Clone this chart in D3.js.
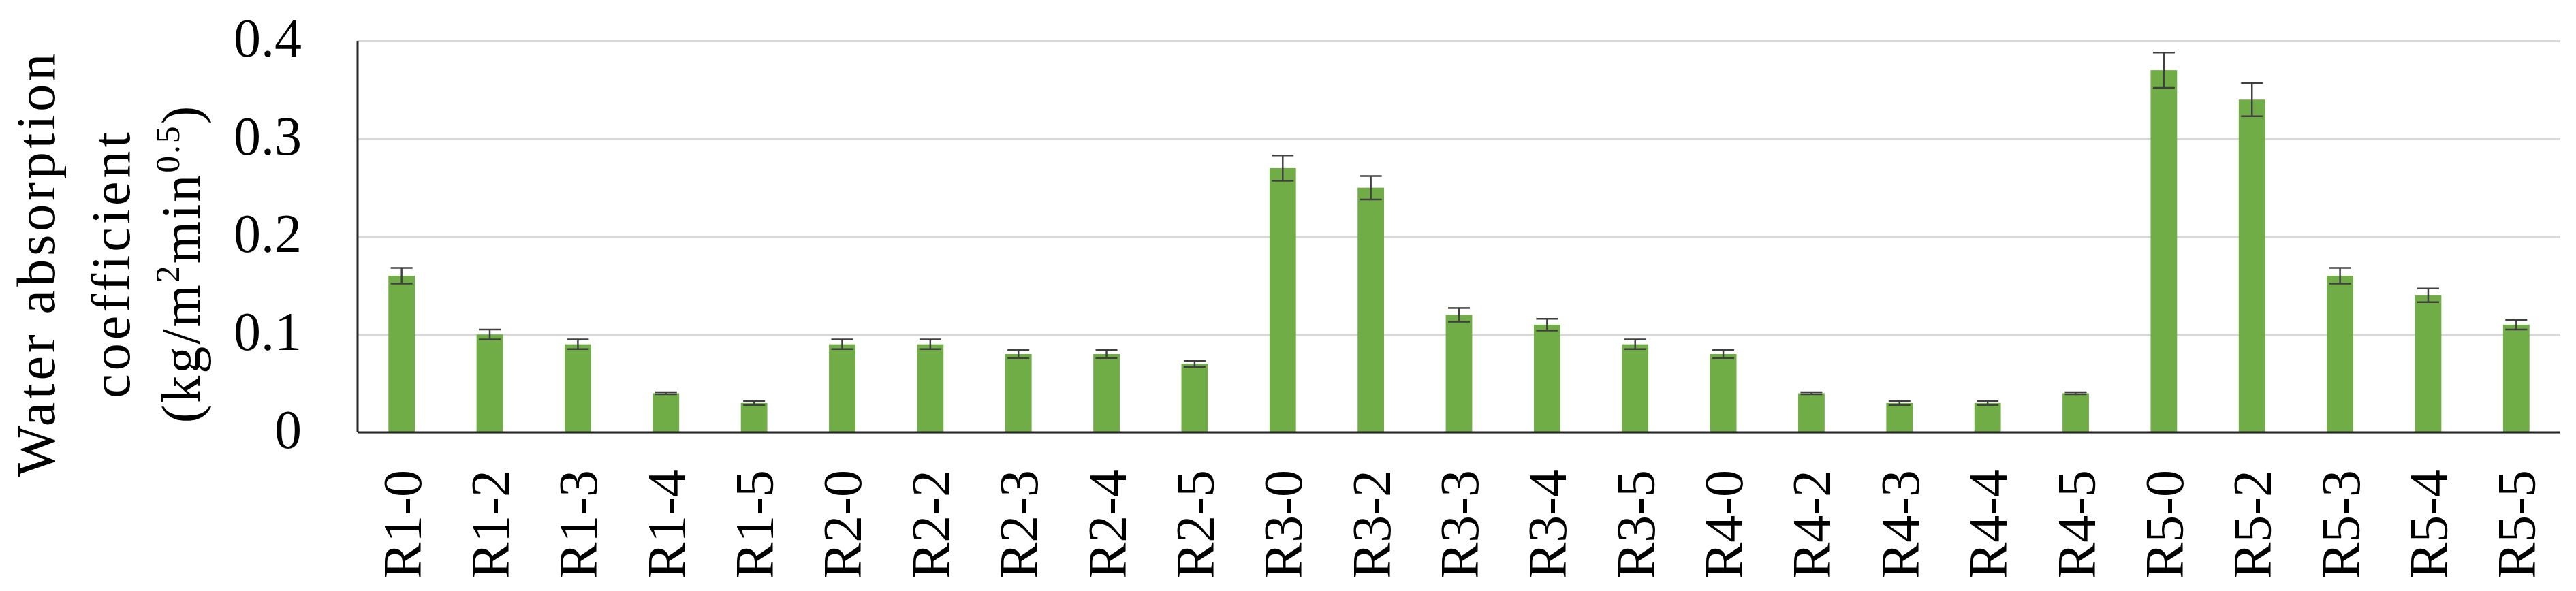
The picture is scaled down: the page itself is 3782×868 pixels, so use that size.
<!DOCTYPE html>
<html>
<head>
<meta charset="utf-8">
<script src="https://cdn.jsdelivr.net/npm/d3@7"></script>
<style>
  body { margin: 0; background: #fff; }
  svg text { font-family: "Liberation Serif", "Times New Roman", serif; fill: #000; }
</style>
</head>
<body>
<div id="chart"></div>
<script>
// sample names, read left to right
var samples = ["R1-0", "R1-2", "R1-3", "R1-4", "R1-5",
               "R2-0", "R2-2", "R2-3", "R2-4", "R2-5",
               "R3-0", "R3-2", "R3-3", "R3-4", "R3-5",
               "R4-0", "R4-2", "R4-3", "R4-4", "R4-5",
               "R5-0", "R5-2", "R5-3", "R5-4", "R5-5"];
// water absorption coefficient, kg/m2min0.5
var coefValues = [0.16, 0.10, 0.09, 0.04, 0.03,
                  0.09, 0.09, 0.08, 0.08, 0.07,
                  0.27, 0.25, 0.12, 0.11, 0.09,
                  0.08, 0.04, 0.03, 0.03, 0.04,
                  0.37, 0.34, 0.16, 0.14, 0.11];
// error bar half heights
var coefErrors = [0.008, 0.005, 0.005, 0.001, 0.002,
                  0.005, 0.005, 0.004, 0.004, 0.003,
                  0.013, 0.012, 0.007, 0.006, 0.005,
                  0.004, 0.001, 0.002, 0.002, 0.001,
                  0.018, 0.017, 0.008, 0.007, 0.005];
var yTicks = [0, 0.1, 0.2, 0.3, 0.4];

var width = 3782, height = 868;
var margin = {top: 60, right: 23, bottom: 233, left: 525};
var plotW = width - margin.left - margin.right,
    plotH = height - margin.top - margin.bottom;

var data = samples.map(function(s, i) {
    return {name: s, value: coefValues[i], err: coefErrors[i]};
});

var svg = d3.select("#chart").append("svg")
    .attr("width", width)
    .attr("height", height);

var chart = svg.append("g")
    .attr("transform", "translate(" + margin.left + "," + margin.top + ")");

var x = d3.scaleBand()
    .domain(samples)
    .range([0, plotW])
    .paddingInner(0.7)
    .paddingOuter(0.35);

var y = d3.scaleLinear()
    .domain([0, 0.4])
    .range([plotH, 0]);

// gridlines + y tick labels
var yAxis = chart.append("g")
    .call(d3.axisLeft(y)
        .tickValues(yTicks)
        .tickSize(-plotW)
        .tickPadding(82)
        .tickFormat(function(d) { return d === 0 ? "0" : d3.format(".1f")(d); }));
yAxis.select(".domain").remove();
yAxis.selectAll(".tick line")
    .attr("stroke", "#d9d9d9")
    .attr("stroke-width", 3);
yAxis.selectAll(".tick text")
    .attr("font-size", 80)
    .attr("dy", "0.28em");

// bars
chart.selectAll("rect.bar")
    .data(data)
    .enter().append("rect")
    .attr("class", "bar")
    .attr("x", d => x(d.name))
    .attr("y", d => y(d.value))
    .attr("width", x.bandwidth())
    .attr("height", d => plotH - y(d.value))
    .attr("fill", "#70ad47");

// error bars
var capW = 32;
var eb = chart.selectAll("g.err")
    .data(data)
    .enter().append("g")
    .attr("class", "err")
    .attr("stroke", "#404040")
    .attr("stroke-width", 2.5);
eb.append("line")
    .attr("x1", d => x(d.name) + x.bandwidth() / 2)
    .attr("x2", d => x(d.name) + x.bandwidth() / 2)
    .attr("y1", d => y(d.value + d.err))
    .attr("y2", d => y(d.value - d.err));
eb.append("line")
    .attr("x1", d => x(d.name) + x.bandwidth() / 2 - capW / 2)
    .attr("x2", d => x(d.name) + x.bandwidth() / 2 + capW / 2)
    .attr("y1", d => y(d.value + d.err))
    .attr("y2", d => y(d.value + d.err));
eb.append("line")
    .attr("x1", d => x(d.name) + x.bandwidth() / 2 - capW / 2)
    .attr("x2", d => x(d.name) + x.bandwidth() / 2 + capW / 2)
    .attr("y1", d => y(d.value - d.err))
    .attr("y2", d => y(d.value - d.err));

// x axis with rotated labels
var xAxis = chart.append("g")
    .attr("transform", "translate(0," + plotH + ")")
    .call(d3.axisBottom(x).tickSize(0).tickPadding(0));
xAxis.select(".domain").remove();
xAxis.selectAll(".tick text")
    .attr("font-size", 80)
    .attr("text-anchor", "end")
    .attr("transform", "translate(0,55) rotate(-90)")
    .attr("x", 0)
    .attr("y", 0)
    .attr("dy", "0.35em");

// axis lines
chart.append("line")
    .attr("x1", 0).attr("x2", plotW)
    .attr("y1", plotH).attr("y2", plotH)
    .attr("stroke", "#262626")
    .attr("stroke-width", 3);
chart.append("line")
    .attr("x1", 0).attr("x2", 0)
    .attr("y1", 0).attr("y2", plotH)
    .attr("stroke", "#262626")
    .attr("stroke-width", 3);

// y axis title, three lines
var title = svg.append("text")
    .attr("transform", "rotate(-90)")
    .attr("text-anchor", "middle")
    .attr("font-size", 80);
title.append("tspan")
    .attr("x", -387).attr("y", 80)
    .attr("letter-spacing", 5)
    .text("Water absorption");
title.append("tspan")
    .attr("x", -387).attr("y", 190)
    .attr("letter-spacing", 5)
    .text("coefficient");
var l3 = svg.append("text")
    .attr("transform", "rotate(-90)")
    .attr("text-anchor", "middle")
    .attr("font-size", 80)
    .attr("x", -387).attr("y", 293)
    .attr("letter-spacing", 3);
l3.append("tspan").text("(kg/m");
l3.append("tspan").attr("font-size", 50).attr("dy", -30).text("2");
l3.append("tspan").attr("dy", 30).text("min");
l3.append("tspan").attr("font-size", 50).attr("dy", -30).text("0.5");
l3.append("tspan").attr("dy", 30).text(")");
</script>
</body>
</html>
